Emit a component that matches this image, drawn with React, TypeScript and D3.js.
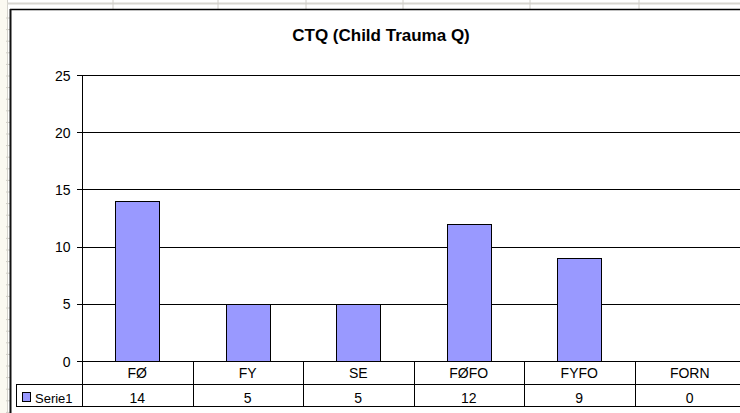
import React from 'react';
import * as d3 from 'd3';

const categories = ['FØ', 'FY', 'SE', 'FØFO', 'FYFO', 'FORN'];
const serie1 = [14, 5, 5, 12, 9, 0];
const seriesName = 'Serie1';
const yTicks = [0, 5, 10, 15, 20, 25];
const title = 'CTQ (Child Trauma Q)';

// spreadsheet column lines seen above the chart
const sheetCols = [113, 218, 306, 403, 530, 639];

const W = 740;
const H = 413;
const font = 'Liberation Sans, Arial, sans-serif';

export default function App() {
  const x = d3.scaleBand<string>().domain(categories).range([82, 745]).padding(0);
  const y = d3.scaleLinear().domain([0, 25]).range([361, 75]);
  const barW = x.bandwidth() * 0.4;
  const row1 = 384;
  const row2 = 406;
  const rowTicks = d3.range(18, H, 11.6);

  return (
    <div style={{ position: 'fixed', left: 0, top: 0 }}>
      <svg width={W} height={H} style={{ display: 'block' }} fontFamily={font}>
        <rect x={0} y={0} width={W} height={H} fill="#fff" />
        {/* spreadsheet behind the chart */}
        <rect x={0} y={0} width={7.5} height={H} fill="#fbf9f1" />
        <line x1={7.5} x2={7.5} y1={0} y2={H} stroke="#d4d2cc" />
        {rowTicks.map((t, i) => (
          <line key={i} x1={6} x2={10} y1={t} y2={t} stroke="#cfcdc6" />
        ))}
        <line x1={7} x2={W} y1={3.5} y2={3.5} stroke="#d8d6d0" strokeWidth={2} />
        {sheetCols.map((c, i) => (
          <line key={i} x1={c} x2={c} y1={0} y2={9} stroke="#d0cec8" />
        ))}

        {/* chart frame */}
        <rect x={10} y={9} width={W} height={H} fill="#fff" />
        <line x1={10} x2={W} y1={9.5} y2={9.5} stroke="#000" strokeWidth={1.5} />
        <line x1={10.5} x2={10.5} y1={9} y2={H} stroke="#111" strokeWidth={2} />

        <text x={381} y={41} textAnchor="middle" fontSize={17} fontWeight="bold" fill="#000">
          {title}
        </text>

        {/* gridlines */}
        {yTicks.filter(t => t > 0).map(t => (
          <line key={t} x1={82} x2={W} y1={Math.round(y(t)) + 0.5} y2={Math.round(y(t)) + 0.5} stroke="#000" />
        ))}

        {/* y axis */}
        <line x1={82.5} x2={82.5} y1={75} y2={row2} stroke="#000" />
        {yTicks.map(t => (
          <g key={t}>
            <line x1={77} x2={82} y1={Math.round(y(t)) + 0.5} y2={Math.round(y(t)) + 0.5} stroke="#000" />
            <text x={70.5} y={y(t) + 5.5} textAnchor="end" fontSize={14} fill="#000">{t}</text>
          </g>
        ))}

        {/* bars */}
        {categories.map((c, i) => (
          serie1[i] > 0 ? (
            <rect
              key={c}
              x={Math.round((x(c) as number) + x.bandwidth() / 2 - barW / 2) + 0.5}
              y={Math.round(y(serie1[i])) + 0.5}
              width={Math.round(barW)}
              height={Math.round(y(0)) - Math.round(y(serie1[i]))}
              fill="#9999ff"
              stroke="#000"
            />
          ) : null
        ))}

        {/* data table */}
        <line x1={82} x2={W} y1={361.5} y2={361.5} stroke="#000" />
        <line x1={16} x2={W} y1={row1 + 0.5} y2={row1 + 0.5} stroke="#000" />
        <line x1={16} x2={W} y1={row2 + 0.5} y2={row2 + 0.5} stroke="#000" />
        <line x1={16.5} x2={16.5} y1={row1} y2={row2 + 1} stroke="#000" />
        {categories.map((c, i) => {
          const x0 = x(c) as number;
          const cx = x0 + x.bandwidth() / 2;
          return (
            <g key={c}>
              {i > 0 && (
                <line x1={Math.round(x0) + 0.5} x2={Math.round(x0) + 0.5} y1={361} y2={row2 + 1} stroke="#000" />
              )}
              <text x={cx} y={378} textAnchor="middle" fontSize={14} fill="#000">{c}</text>
              <text x={cx} y={402.5} textAnchor="middle" fontSize={14} fill="#000">{serie1[i]}</text>
            </g>
          );
        })}
        <rect x={22.5} y={392.5} width={8} height={9} fill="#9999ff" stroke="#000" />
        <text x={35} y={402.5} fontSize={13} fill="#000">{seriesName}</text>
      </svg>
    </div>
  );
}
